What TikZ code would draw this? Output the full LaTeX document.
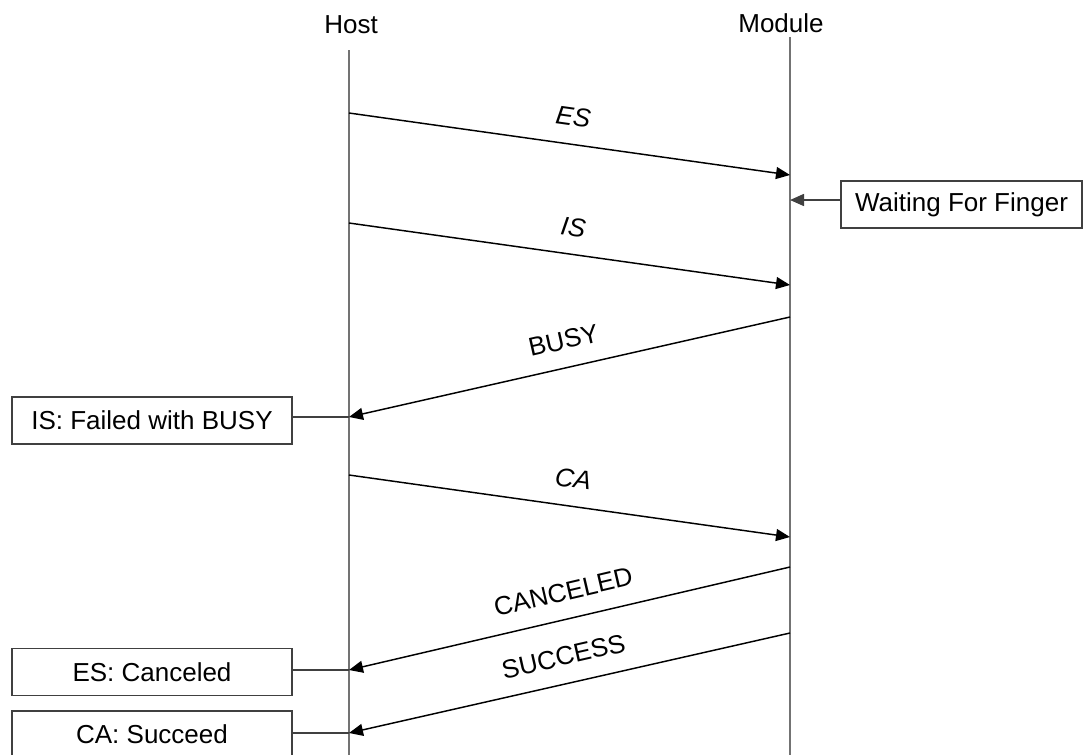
\documentclass[tikz,border=0pt]{standalone}
\usepackage{fontspec}
\setmainfont{Liberation Sans}
\usetikzlibrary{positioning,arrows,arrows.meta}

\tikzset{
  lifeline/.style={line width=1.4pt, color=black!55},
  msg/.style={line width=1.1pt, -{Triangle[length=10.5pt,width=9pt]}},
  msglabel/.style={midway, sloped, above=13pt, inner sep=0pt},
  note/.style={draw=black!75, line width=1.2pt, minimum width=210pt, minimum height=35.5pt, inner sep=0pt},
  tie/.style={line width=1.2pt, color=black!75}
}

\begin{document}
\begin{tikzpicture}[x=0.75pt,y=-0.75pt,font=\fontsize{19.5}{23}\selectfont]
\useasboundingbox (0,0) rectangle (1084,754);

% lifelines
\node (host) at (351,25) {Host};
\node (module) at (781,23) {Module};
\coordinate (hosttop) at (349,50);
\coordinate (hostend) at (349,756);
\coordinate (moduletop) at (790,37);
\coordinate (moduleend) at (790,756);
\draw[lifeline] (hosttop) -- (hostend);
\draw[lifeline] (moduletop) -- (moduleend);

% points on the lifelines
\coordinate (h1) at (349,113); \coordinate (m1) at (790,175);
\coordinate (mw) at (790,200);
\coordinate (h2) at (349,223); \coordinate (m2) at (790,285);
\coordinate (m3) at (790,317); \coordinate (h3) at (349,417);
\coordinate (h4) at (349,475); \coordinate (m4) at (790,537);
\coordinate (m5) at (790,567); \coordinate (h5) at (349,670);
\coordinate (m6) at (790,633); \coordinate (h6) at (349,733);

% messages
\draw[msg] (h1) -- (m1) node[msglabel] {\textit{ES}};
\draw[msg] (h2) -- (m2) node[msglabel] {\textit{IS}};
\draw[msg] (m3) -- (h3) node[msglabel] {BUSY};
\draw[msg] (h4) -- (m4) node[msglabel] {\textit{CA}};
\draw[msg] (m5) -- (h5) node[msglabel] {CANCELED};
\draw[msg] (m6) -- (h6) node[msglabel] {SUCCESS};

% notes
\node[note, minimum width=180.75pt] (wait) at (961.5,204.5) {Waiting For Finger};
\draw[tie, -{Triangle[length=10.5pt,width=9pt]}] (wait.west |- mw) -- (mw);

\node[note] (isfail) at (152,420.5) {IS: Failed with BUSY};
\draw[tie] (isfail.east |- h3) -- (h3);

\node[note] (escancel) at (152,672) {ES: Canceled};
\draw[tie] (escancel.east |- h5) -- (h5);

\node[note] (casucceed) at (152,734.5) {CA: Succeed};
\draw[tie] (casucceed.east |- h6) -- (h6);
\end{tikzpicture}
\end{document}
